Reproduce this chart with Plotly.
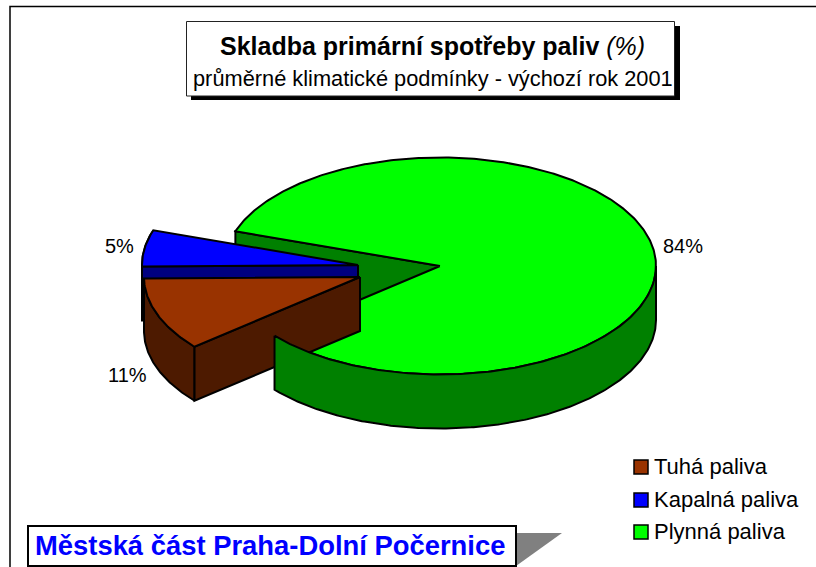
import numpy as np
import plotly.graph_objects as go

categories = ["Tuhá paliva", "Kapalná paliva", "Plynná paliva"]
shares = [10.9, 5.4, 83.7]
title_main = "Skladba primární spotřeby paliv"
title_unit = "(%)"
subtitle = "průměrné klimatické podmínky - výchozí rok 2001"
footer = "Městská část Praha-Dolní Počernice"

W, H = 816, 567
RX, RY, DEPTH = 216, 108.5, 54
START = 220.0
CENTERS = {"Tuhá paliva": (360, 277), "Kapalná paliva": (358, 265), "Plynná paliva": (440, 266)}
TOP = {"Tuhá paliva": "#993300", "Kapalná paliva": "#0000ff", "Plynná paliva": "#00ff00"}
SIDE = {"Tuhá paliva": "#4d1a00", "Kapalná paliva": "#000080", "Plynná paliva": "#008000"}
FONT = "Liberation Sans"

# slice angles from the values, clockwise from START
angles = {}
a = START
for c, v in zip(categories, shares):
    angles[c] = (a, a - v / sum(shares) * 360)
    a = angles[c][1]


def arc(c, a0, a1, dy=0):
    cx, cy = CENTERS[c]
    n = max(2, int(abs(a1 - a0) * 1.5))
    t = np.radians(np.linspace(a0, a1, n))
    return list(cx + RX * np.cos(t)), list(cy - RY * np.sin(t) + dy)


def poly(xs, ys, fill):
    return go.Scatter(x=xs + xs[:1], y=ys + ys[:1], mode="lines", fill="toself", fillcolor=fill,
                      line=dict(color="black", width=2), hoverinfo="skip", showlegend=False)


def top_face(c):
    x, y = arc(c, *angles[c])
    cx, cy = CENTERS[c]
    return poly([cx] + x, [cy] + y, TOP[c])


def rim(c, a0, a1):
    x, y = arc(c, a0, a1)
    xb, yb = arc(c, a1, a0, DEPTH)
    return poly(x + xb, y + yb, SIDE[c])


def wall(c, ang):
    cx, cy = CENTERS[c]
    x, y = arc(c, ang, ang)
    return poly([cx, x[0], x[0], cx], [cy, y[0], y[0] + DEPTH, cy + DEPTH], SIDE[c])


T, K, P = categories
fig = go.Figure()
fig.add_trace(rim(K, angles[K][0], angles[K][1]))
fig.add_trace(wall(P, angles[P][0]))
fig.add_trace(top_face(P))
fig.add_trace(wall(K, angles[K][0]))
fig.add_trace(top_face(K))
fig.add_trace(rim(T, angles[T][0], angles[T][1]))
fig.add_trace(wall(T, angles[T][0]))
fig.add_trace(top_face(T))
# front rim of the green slice: from its bottom-left corner round to the right-most point
fig.add_trace(rim(P, START, 360.0))

# legend swatches and names
legend_y = [467, 500, 532]
fig.add_trace(go.Scatter(x=[641] * 3, y=legend_y, mode="markers",
                         marker=dict(symbol="square", size=14, color=[TOP[c] for c in categories],
                                     line=dict(color="black", width=1.5)),
                         hoverinfo="skip", showlegend=False))
fig.add_trace(go.Scatter(x=[654] * 3, y=[v + 1 for v in legend_y], mode="text", text=categories,
                         textposition="middle right",
                         textfont=dict(family=FONT, size=22, color="black"),
                         hoverinfo="skip", showlegend=False))

shapes = [
    dict(type="path", path="M 10 567 L 10 6.5 L 816 6.5", line=dict(color="black", width=1.5), layer="below"),
    dict(type="rect", x0=191, y0=26, x1=680, y1=100, fillcolor="black", line=dict(width=0), layer="below"),
    dict(type="rect", x0=186.5, y0=21.5, x1=674.5, y1=96, fillcolor="white", line=dict(color="#222222", width=1), layer="below"),
    dict(type="path", path="M 516 533 L 562 533 L 516 566 Z", fillcolor="#808080", line=dict(width=0), layer="below"),
    dict(type="rect", x0=28, y0=526, x1=516, y1=566, fillcolor="white", line=dict(color="black", width=2), layer="below"),
]


def note(x, y, text, size, color="black"):
    return dict(x=x, y=y, text=text, showarrow=False, xanchor="center", yanchor="middle",
                font=dict(family=FONT, size=size, color=color))


annotations = [
    note(432.5, 46, f"<b>{title_main}</b> <i>{title_unit}</i>", 25),
    note(432.5, 78, subtitle, 21.8),
    note(270, 545, f"<b>{footer}</b>", 27.4, "#0000ff"),
    note(119, 246, f"{round(shares[1])}%", 20),
    note(127, 375, f"{round(shares[0])}%", 20),
    note(683, 246, f"{round(shares[2])}%", 20),
]

fig.update_layout(
    width=W, height=H, margin=dict(l=0, r=0, t=0, b=0), autosize=False,
    paper_bgcolor="white", plot_bgcolor="white", showlegend=False,
    xaxis=dict(range=[0, W], visible=False, fixedrange=True),
    yaxis=dict(range=[H, 0], visible=False, fixedrange=True),
    shapes=shapes, annotations=annotations,
)
fig.write_html("out.html", config=dict(displayModeBar=False),
               post_script="document.body.style.margin='0';document.body.style.overflow='hidden';")
